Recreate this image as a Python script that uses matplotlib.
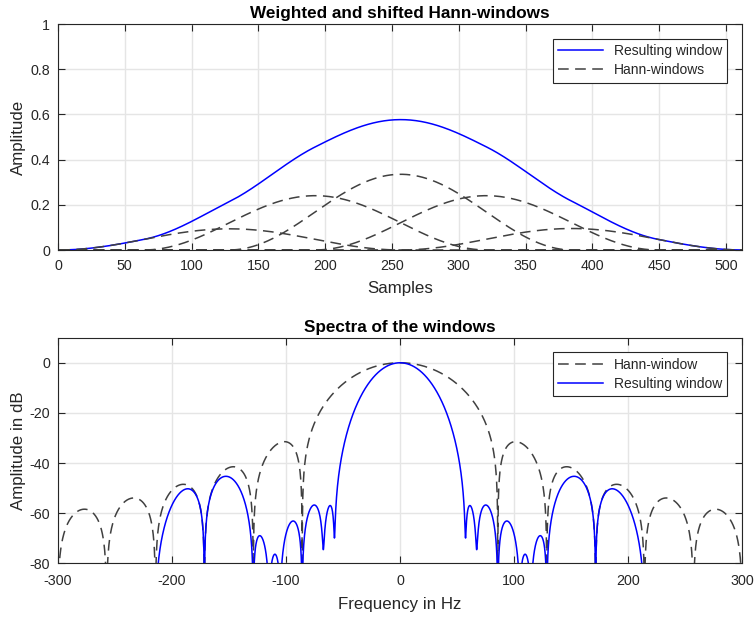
import numpy as np
import matplotlib
matplotlib.use('Agg')
import matplotlib.pyplot as plt

###########################################################
###              Values
###########################################################
FS = 11025                 # Hz, sampling rate (Hann null spacing ~43 Hz)
WIN_LEN = 256              # samples per Hann window
HOP = 64                   # shift between windows
weights = [0.0937, 0.2404, 0.335, 0.2404, 0.0951]   # peak heights of the dashed windows
NFFT = 2**16

x_ticks_top = np.arange(0, 501, 50)
y_ticks_top = np.arange(0, 1.01, 0.2)
x_ticks_bot = np.arange(-300, 301, 100)
y_ticks_bot = np.arange(-80, 1, 20)

BLUE = '#0000ff'
DASH = '#404040'
TXT = '#262626'
GRID = '#e5e5e5'

plt.rcParams['font.family'] = ['Liberation Sans', 'DejaVu Sans']
plt.rcParams['axes.unicode_minus'] = False

###########################################################
###              Windows
###########################################################
n_total = HOP * (len(weights) - 1) + WIN_LEN
n = np.arange(WIN_LEN)
hann = 0.5 * (1 - np.cos(2 * np.pi * (n + 1) / (WIN_LEN + 1)))

shifted = []
for k, w in enumerate(weights):
    s = np.zeros(n_total)
    s[k*HOP:k*HOP + WIN_LEN] = w * hann
    shifted.append(s)
result = np.sum(shifted, axis=0)
samples = np.arange(n_total) + 1

def spectrum_db(sig):
    S = np.abs(np.fft.fftshift(np.fft.fft(sig, NFFT)))
    S = S / S.max()
    return 20 * np.log10(np.maximum(S, 1e-12))

freq = (np.arange(NFFT) - NFFT // 2) * FS / NFFT
spec_hann = spectrum_db(hann)
spec_res = spectrum_db(result)

###########################################################
###              Plot
###########################################################
W, H = 755, 618
fig = plt.figure(figsize=(W/100, H/100), dpi=100)
ax1 = fig.add_axes([58/W, 1 - 250/H, 684/W, 226/H])
ax2 = fig.add_axes([58/W, 1 - 563.3/H, 684/W, 225.6/H])

dash_style = (0, (7, 4.2))

ax1.plot(samples, result, color=BLUE, lw=1.1, label='Resulting window')
for i, s in enumerate(shifted):
    ax1.plot(samples, s, color=DASH, lw=1.1, ls=dash_style,
             label='Hann-windows' if i == 0 else None)
ax1.set_xlim(0, 512)
ax1.set_ylim(0, 1)
ax1.set_xticks(x_ticks_top)
ax1.set_yticks(y_ticks_top)
ax1.set_yticklabels(['0', '0.2', '0.4', '0.6', '0.8', '1'])
ax1.set_xlabel('Samples', fontsize=12.2, color=TXT, labelpad=6)
ax1.set_ylabel('Amplitude', fontsize=12.2, color=TXT, labelpad=3)
ax1.set_title('Weighted and shifted Hann-windows', fontsize=12.3,
              fontweight='bold', pad=4)

ax2.plot(freq, spec_hann, color=DASH, lw=1.1, ls=dash_style, label='Hann-window')
ax2.plot(freq, spec_res, color=BLUE, lw=1.1, label='Resulting window')
ax2.set_xlim(-300, 300)
ax2.set_ylim(-80, 10)
ax2.set_xticks(x_ticks_bot)
ax2.set_yticks(y_ticks_bot)
ax2.set_xlabel('Frequency in Hz', fontsize=12.2, color=TXT, labelpad=6)
ax2.set_ylabel('Amplitude in dB', fontsize=12.2, color=TXT, labelpad=3)
ax2.set_title('Spectra of the windows', fontsize=12.3, fontweight='bold', pad=4)

for ax in (ax1, ax2):
    ax.grid(True, color=GRID, lw=1.0)
    ax.set_axisbelow(True)
    ax.tick_params(direction='in', length=5, width=0.8, top=True, right=True,
                   labelsize=10.3, colors=TXT)
    ax.tick_params(axis='y', pad=5.5)
    for sp in ax.spines.values():
        sp.set_color(TXT)
        sp.set_linewidth(0.8)
    leg = ax.legend(loc='upper right', fontsize=10, fancybox=False,
                    framealpha=1, edgecolor=TXT, handlelength=3.2,
                    borderaxespad=1.05, borderpad=0.4, labelspacing=0.35)
    leg.get_frame().set_linewidth(0.8)
    for t in leg.get_texts():
        t.set_color(TXT)

ax1.tick_params(axis='x', pad=6.5)
ax2.tick_params(axis='x', pad=8)

fig.savefig('out.png', dpi=100)
